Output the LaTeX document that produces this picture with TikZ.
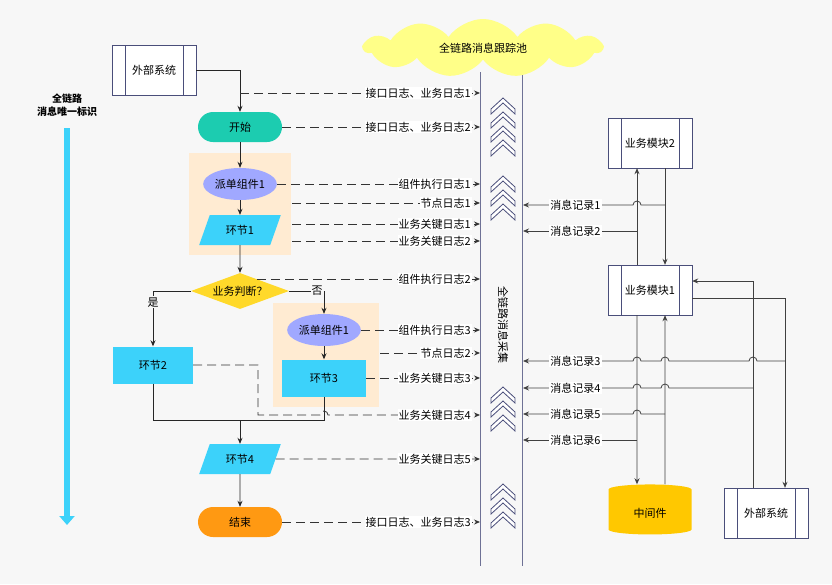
\documentclass[tikz,border=0pt]{standalone}
\usepackage{fontspec}
\setmainfont{Noto Sans CJK SC}
\usetikzlibrary{shapes.geometric,shapes.symbols,arrows.meta,positioning}
\definecolor{bgc}{HTML}{F7F7F7}
\definecolor{edge}{HTML}{4A4E7A}
\definecolor{teal}{HTML}{1CCCB0}
\definecolor{lila}{HTML}{A0A8FF}
\definecolor{sky}{HTML}{3CD2FA}
\definecolor{gold}{HTML}{FFD92A}
\definecolor{tang}{HTML}{FF9912}
\definecolor{peach}{HTML}{FFEBD2}
\definecolor{lemon}{HTML}{FFFF88}
\definecolor{mid}{HTML}{FFC800}
\begin{document}
\begin{tikzpicture}[%
	x=1pt, y=-1pt,
	every node/.style={font=\fontsize{11}{13}\selectfont},
	>={Stealth[length=6pt,width=5pt]},
	]
	\tikzset{
		sys/.style={draw=edge, fill=white, minimum width=84, minimum height=50,
			path picture={
				\draw[edge] ([xshift=13pt]path picture bounding box.north west) -- ([xshift=13pt]path picture bounding box.south west);
				\draw[edge] ([xshift=-13pt]path picture bounding box.north east) -- ([xshift=-13pt]path picture bounding box.south east);}},
		term/.style={rounded corners=15pt, minimum height=30, draw=none},
		comp/.style={ellipse, fill=lila, minimum width=58, minimum height=32, inner sep=1pt},
		stage/.style={trapezium, trapezium left angle=70, trapezium right angle=110,
			trapezium stretches=true, fill=sky, minimum width=82, minimum height=30},
		blk/.style={rectangle, fill=sky, minimum width=82, minimum height=37},
		panel/.style={fill=peach},
		flow/.style={->, draw=black!85, line width=0.8pt},
		logl/.style={->, draw=black!80, line width=0.8pt, dash pattern=on 9pt off 5pt},
		rec/.style={->, draw=black!75, line width=0.8pt},
		lbl/.style={fill=white, inner sep=1pt},
		bus/.style={draw=edge!80, line width=1.5pt},
		chev/.style={draw=edge, line width=0.8pt, fill=white}
	}
	\fill[bgc] (0,0) rectangle (832,584);

	% collector
	\coordinate (busL) at (480,0);
	\coordinate (busR) at (523,0);
	\draw[bus] (480.5,72) -- (480.5,566);
	\draw[bus] (522.5,72) -- (522.5,566);
	\node[cloud, cloud puffs=11, cloud puff arc=110, aspect=3.8, fill=lemon, minimum width=238, minimum height=58] (pool) at (483,48) {全链路消息跟踪池};
	\node[rotate=-90] (coll) at (503,325) {全链路消息采集};
	\foreach \y in {105,119,133,147,183,197,211,394,408,422,491,505,519}
		\draw[chev] (491,\y+4) -- (503,\y-7) -- (515,\y+4) -- (515,\y+9) -- (503,\y-2) -- (491,\y+9) -- cycle;

	% unique id arrow
	\node[font=\fontsize{10}{13}\selectfont\bfseries, align=center] (uid) at (67,105) {全链路\\消息唯一标识};
	\draw[sky, line width=6pt, -{Triangle[length=9pt,width=15pt]}] (67,128) -- (67,525);

	% panels
	\fill[panel] (189,153) rectangle (291,255);
	\fill[panel] (273,303) rectangle (379,407);

	% flow nodes
	\node[sys] (ext) at (154,70) {外部系统};
	\node[term, fill=teal, minimum width=84] (start) at (240,127) {开始};
	\node[comp] (c1) at (240,184) {派单组件1};
	\node[stage] (s1) at (240,230) {环节1};
	\node[diamond, aspect=2.7, fill=gold, minimum width=98, minimum height=36, inner sep=0pt] (dec) at (240,291) {业务判断？};
	\node[blk, minimum width=80] (s2) at (153,365) {环节2};
	\node[comp, minimum width=60] (c2) at (324,330) {派单组件1};
	\node[blk, minimum width=84] (s3) at (324,378) {环节3};
	\node[stage] (s4) at (240,459) {环节4};
	\node[term, fill=tang, minimum width=84] (stop) at (240,522) {结束};
	\coordinate (merge) at (240,420);

	\draw[flow] (ext.east) -| (start);
	\draw[flow] (start) -- (c1);
	\draw[flow] (c1) -- (s1);
	\draw[flow] (s1) -- (dec);
	\draw[flow] (dec.west) -| node[pos=0.6, fill=bgc, inner sep=1pt] {是} (s2);
	\draw[flow] (dec.east) -| node[pos=0.4, fill=bgc, inner sep=1pt] {否} (c2);
	\draw[flow] (c2) -- (s3);
	\draw[draw=black!85, line width=0.8pt] (s2) |- (merge);
	\draw[draw=black!85, line width=0.8pt] (s3) |- (merge);
	\draw[flow] (merge) -- (s4);
	\draw[flow] (s4) -- (stop);

	% log lines
	\coordinate (g1) at (240,93);
	\coordinate (g4) at (292,203);
	\coordinate (g5) at (292,224);
	\coordinate (g6) at (292,241);
	\coordinate (g7) at (257,279);
	\coordinate (g9) at (380,353);
	\coordinate (g11) at (258,415);
	\draw[logl] (g1) -- (g1 -| busL) node[lbl, at end, anchor=east, xshift=-8] {接口日志、业务日志1};
	\draw[logl] (start) -- (start -| busL) node[lbl, at end, anchor=east, xshift=-8] {接口日志、业务日志2};
	\draw[logl] (c1.east) -- (c1 -| busL) node[lbl, at end, anchor=east, xshift=-8] {组件执行日志1};
	\draw[logl] (g4) -- (g4 -| busL) node[lbl, at end, anchor=east, xshift=-8] {节点日志1};
	\draw[logl] (g5) -- (g5 -| busL) node[lbl, at end, anchor=east, xshift=-8] {业务关键日志1};
	\draw[logl] (g6) -- (g6 -| busL) node[lbl, at end, anchor=east, xshift=-8] {业务关键日志2};
	\draw[logl] (g7) -- (g7 -| busL) node[lbl, at end, anchor=east, xshift=-8] {组件执行日志2};
	\draw[logl] (c2.east) -- (c2 -| busL) node[lbl, at end, anchor=east, xshift=-8] {组件执行日志3};
	\draw[logl] (g9) -- (g9 -| busL) node[lbl, at end, anchor=east, xshift=-8] {节点日志2};
	\draw[logl] (s3.east) -- (s3 -| busL) node[lbl, at end, anchor=east, xshift=-8] {业务关键日志3};
	\draw[logl] (s2.east) -| (g11) -- (320,415) arc(180:360:4) -- (g11 -| busL) node[lbl, at end, anchor=east, xshift=-8] {业务关键日志4};
	\draw[logl] (s4.east) -- (s4 -| busL) node[lbl, at end, anchor=east, xshift=-8] {业务关键日志5};
	\draw[logl] (stop.east) -- (stop -| busL) node[lbl, at end, anchor=east, xshift=-8] {接口日志、业务日志3};

	% right side modules
	\node[sys] (mod2) at (650,143) {业务模块2};
	\node[sys] (mod1) at (650,290) {业务模块1};
	\node[cylinder, shape border rotate=90, aspect=0.25, fill=mid, minimum width=83, minimum height=50] (mw) at (650,513) {中间件};
	\node[sys] (ext2) at (766,513) {外部系统};

	\draw[rec] ([xshift=-13]mod1.north) -- ([xshift=-13]mod2.south);
	\draw[rec] ([xshift=15]mod2.south) -- ([xshift=15]mod1.north);
	\draw[rec] ([xshift=-13]mod1.south) -- ([xshift=-13]mw.north);
	\draw[rec] ([xshift=15]mw.north) -- ([xshift=15]mod1.south);
	\draw[rec] ([yshift=-8]mod1.east) -| ([xshift=19]ext2.north);
	\draw[rec] ([xshift=-13]ext2.north) |- ([yshift=9]mod1.east);

	% message records
	\draw[rec] (665,205) -- (641,205) arc(0:-180:4) -- (busR |- 0,205) node[lbl, at end, anchor=west, xshift=26] {消息记录1};
	\draw[rec] (637,231) -- (busR |- 0,231) node[lbl, at end, anchor=west, xshift=26] {消息记录2};
	\draw[rec] (785,361) -- (757,361) arc(0:-180:4) -- (669,361) arc(0:-180:4) -- (641,361) arc(0:-180:4) -- (busR |- 0,361) node[lbl, at end, anchor=west, xshift=26] {消息记录3};
	\draw[rec] (753,388) -- (669,388) arc(0:-180:4) -- (641,388) arc(0:-180:4) -- (busR |- 0,388) node[lbl, at end, anchor=west, xshift=26] {消息记录4};
	\draw[rec] (665,414) -- (641,414) arc(0:-180:4) -- (busR |- 0,414) node[lbl, at end, anchor=west, xshift=26] {消息记录5};
	\draw[rec] (637,440) -- (busR |- 0,440) node[lbl, at end, anchor=west, xshift=26] {消息记录6};
\end{tikzpicture}
\end{document}
